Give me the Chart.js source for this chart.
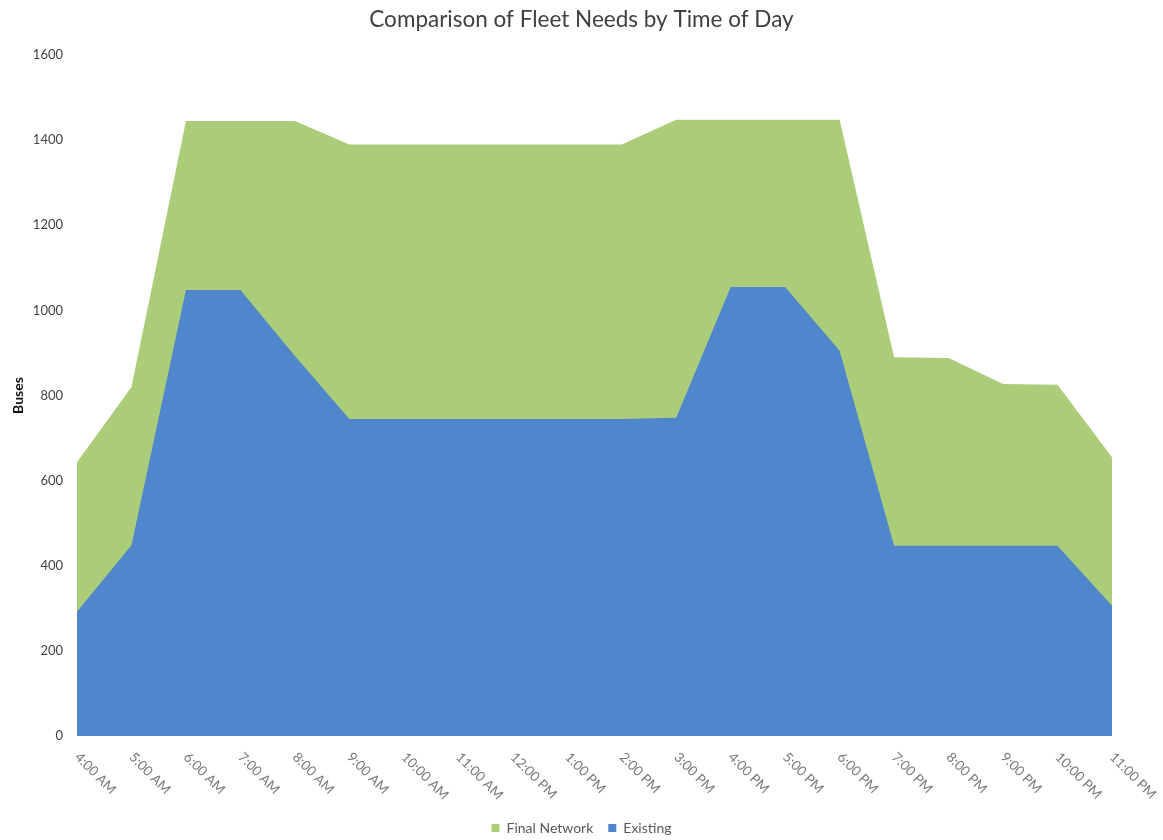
<!DOCTYPE html>
<html>
<head>
<meta charset="utf-8">
<title>Comparison of Fleet Needs by Time of Day</title>
<script src="https://cdn.jsdelivr.net/npm/chart.js@4"></script>
<style>
  html, body { margin: 0; padding: 0; background: #fff; }
  #wrap { width: 1163px; height: 840px; position: relative; }
</style>
</head>
<body>
<div id="wrap"><canvas id="chart"></canvas></div>
<script>
// buses in service at each hour of the day
const hours = [
  "4:00 AM", "5:00 AM", "6:00 AM", "7:00 AM", "8:00 AM", "9:00 AM",
  "10:00 AM", "11:00 AM", "12:00 PM", "1:00 PM", "2:00 PM", "3:00 PM",
  "4:00 PM", "5:00 PM", "6:00 PM", "7:00 PM", "8:00 PM", "9:00 PM",
  "10:00 PM", "11:00 PM",
];
const finalNetwork = [643, 820, 1445, 1445, 1445, 1390, 1390, 1390, 1390, 1390, 1390, 1448, 1448, 1448, 1448, 890, 888, 827, 825, 655];
const existing = [292, 448, 1048, 1048, 893, 745, 745, 745, 745, 745, 745, 748, 1055, 1055, 905, 447, 447, 447, 447, 306];
const yTicks = [0, 200, 400, 600, 800, 1000, 1200, 1400, 1600];

const GREEN = "#abcd79";
const BLUE = "#4f86cc";

// x labels run down to the right from each hour, so they are drawn here
const slantedHours = {
  id: "slantedHours",
  afterDraw(chart) {
    const { ctx, chartArea, scales } = chart;
    ctx.save();
    ctx.font = "13.5px Lato";
    ctx.fillStyle = "#7a7a7a";
    ctx.textAlign = "left";
    ctx.textBaseline = "middle";
    hours.forEach((label, i) => {
      ctx.save();
      ctx.translate(scales.x.getPixelForValue(i), chartArea.bottom + 19);
      ctx.rotate(Math.PI / 4);
      ctx.fillText(label, 0, 0);
      ctx.restore();
    });
    ctx.restore();
  },
};

new Chart(document.getElementById("chart"), {
  type: "line",
  data: {
    labels: hours,
    datasets: [
      {
        label: "Existing",
        data: existing,
        backgroundColor: BLUE,
        borderColor: BLUE,
        borderWidth: 0,
        pointRadius: 0,
        fill: "origin",
        tension: 0,
      },
      {
        label: "Final Network",
        data: finalNetwork,
        backgroundColor: GREEN,
        borderColor: GREEN,
        borderWidth: 0,
        pointRadius: 0,
        fill: "origin",
        tension: 0,
      },
    ],
  },
  options: {
    responsive: true,
    maintainAspectRatio: false,
    animation: false,
    events: [],
    layout: {
      padding: { left: 0, right: 0, top: 0, bottom: -5 },
    },
    plugins: {
      title: {
        display: true,
        text: "Comparison of Fleet Needs by Time of Day",
        color: "#404040",
        font: { family: "Lato", size: 22.5, weight: "normal" },
        padding: { top: 6.5, bottom: 21.5 },
      },
      legend: {
        position: "bottom",
        reverse: true,
        labels: {
          boxWidth: 8,
          boxHeight: 8,
          padding: 15,
          color: "#595959",
          font: { family: "Lato", size: 14 },
        },
      },
      tooltip: { enabled: false },
    },
    scales: {
      x: {
        grid: { display: false },
        border: { display: false },
        ticks: { display: false },
        afterFit(scale) {
          scale.height = 70;
        },
      },
      y: {
        min: 0,
        max: 1600,
        afterBuildTicks(scale) {
          scale.ticks = yTicks.map(v => ({ value: v }));
        },
        grid: { display: false },
        border: { display: false },
        ticks: {
          padding: 6,
          color: "#444",
          font: { family: "Lato", size: 13 },
          callback: value => String(value),
        },
        title: {
          display: true,
          text: "Buses",
          color: "#111",
          font: { family: "Lato", size: 14, weight: "bold" },
          padding: { top: 10, bottom: 0 },
        },
        afterFit(scale) {
          scale.width = 77;
        },
      },
      // empty right-hand margin so the title and legend stay centred on the page
      gutter: {
        position: "right",
        min: 0,
        max: 1600,
        grid: { display: false },
        border: { display: false },
        ticks: { display: false },
        afterFit(scale) {
          scale.width = 51;
        },
      },
    },
  },
  plugins: [slantedHours],
});
</script>
</body>
</html>
